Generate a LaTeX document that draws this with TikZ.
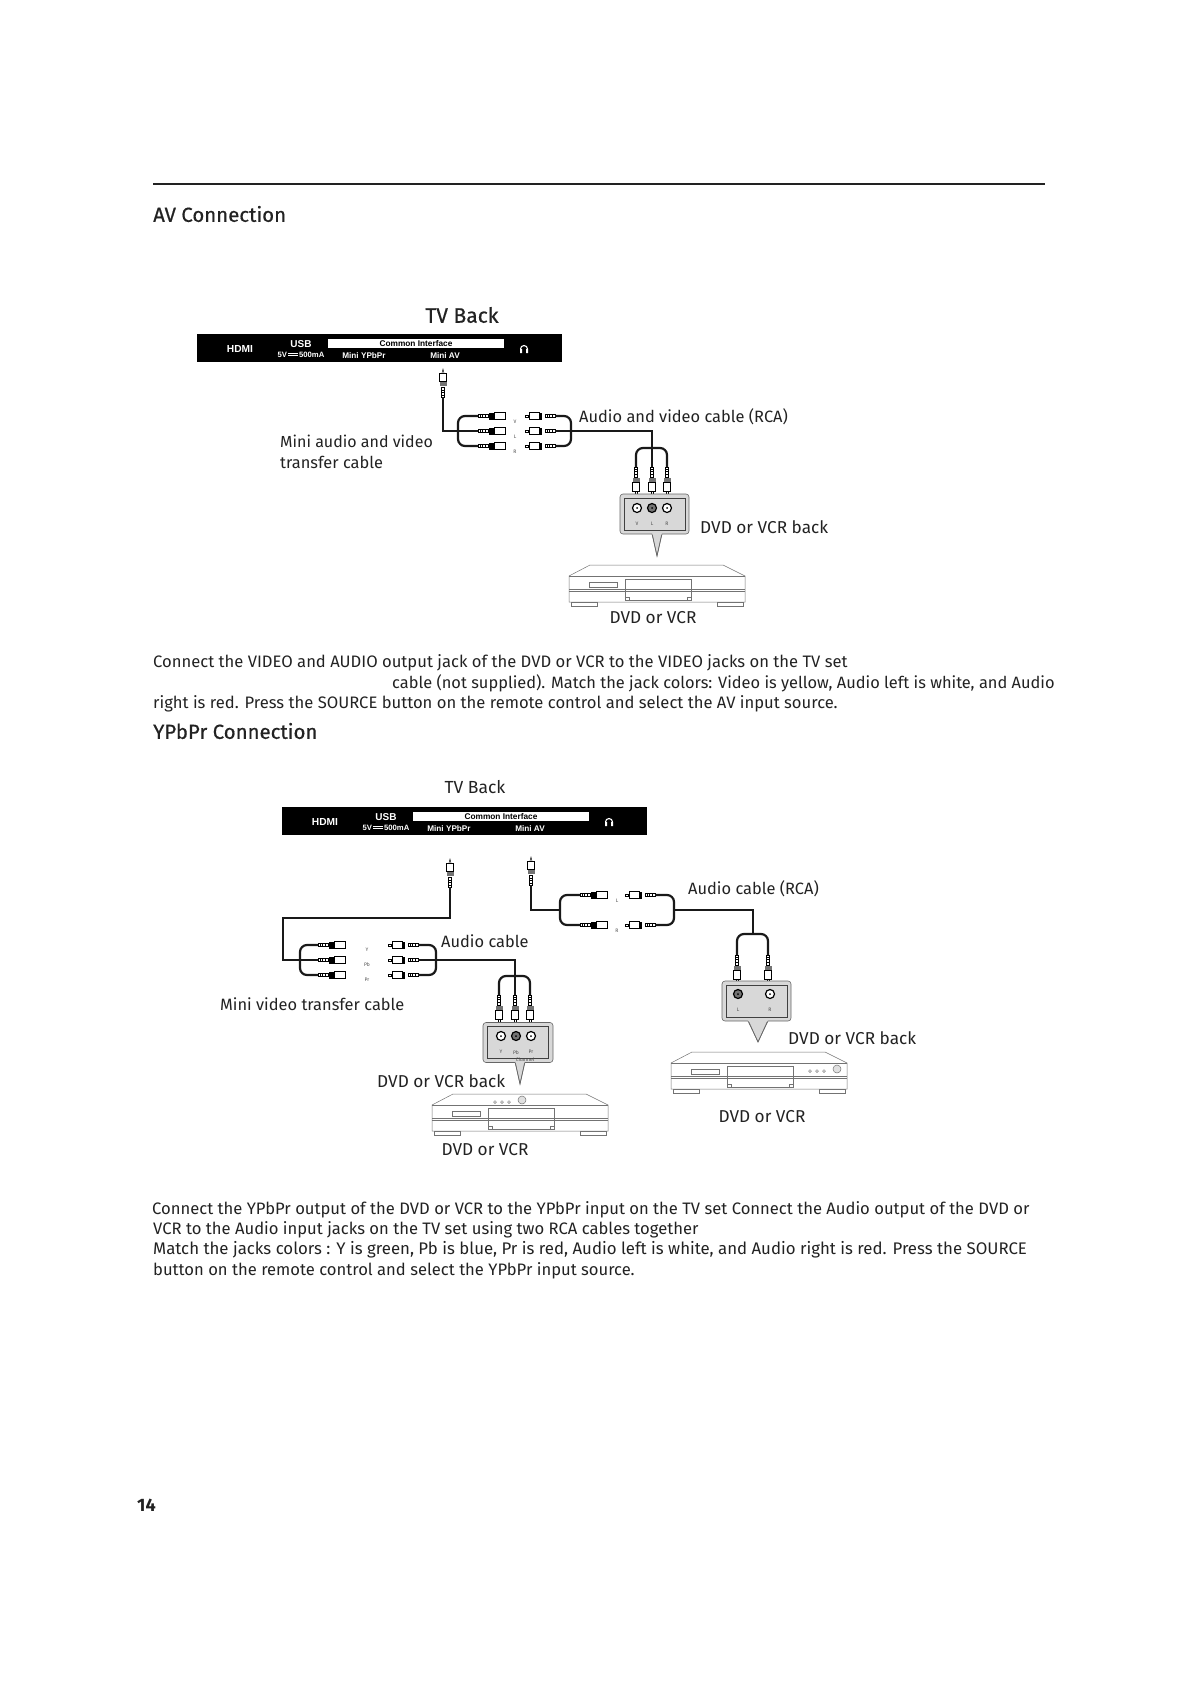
\documentclass[tikz,border=0pt]{standalone}
\usepackage{fontspec}
\setmainfont{Fira Sans}
\newfontfamily\panelfont{Liberation Sans}
\usepackage{xcolor}
\usetikzlibrary{positioning,calc}
\definecolor{inkgray}{HTML}{222222}
\definecolor{plategray}{HTML}{D8D8D8}
\newcommand{\dcsign}{\kern1pt\rlap{\rule[1.1pt]{10pt}{.7pt}}\rule[3.1pt]{10pt}{.7pt}\kern1pt}
\newcommand{\dvdunit}[4]{% x, y, button x, button y
  \begin{scope}[shift={(#1,#2)},line width=.5pt,draw=black!55]
    \draw (0,11) -- (21,0) -- (154,0) -- (176,11) -- (176,37) -- (0,37) -- cycle;
    \draw (0,11) -- (176,11);
    \draw (0,24) -- (176,24) (0,26.5) -- (176,26.5);
    \draw (20,17) rectangle (48,22);
    \draw (56,14) rectangle (122,35);
    \draw (56,32) -- (60,32) -- (60,35) (122,32) -- (118,32) -- (118,35);
    \draw (2,37) rectangle (28,41) (148,37) rectangle (174,41);
    \foreach \k in {0,7,14} \draw (#3+\k,#4) circle (1.4);
    \draw[fill=black!12] (#3+27,#4-2) circle (4);
  \end{scope}}
\tikzset{
  lbl/.style={anchor=west,inner sep=0pt,text=inkgray,font=\fontsize{16.4}{19}\selectfont},
  clbl/.style={lbl,anchor=center},
  vcrlbl/.style={lbl,font=\fontsize{17.2}{19}\selectfont},
  head/.style={lbl,font=\fontsize{20.4}{22}\selectfont\addfontfeature{FakeBold=0.5}},
  para/.style={lbl,font=\fontsize{16.6}{19}\selectfont},
  tiny/.style={inner sep=0pt,text=black!70,font=\fontsize{5}{6}\selectfont},
  cable/.style={line width=2.2pt,draw=black!90,rounded corners=7pt},
  wire/.style={line width=2.2pt,draw=black!90},
  plate/.style={draw=black!60,fill=plategray,line width=.6pt,rounded corners=3pt,minimum width=69pt,minimum height=40pt,inner sep=0pt},
  inplate/.style={draw=black!75,line width=.6pt,minimum width=61pt,minimum height=32pt,inner sep=0pt},
  pointer/.style={draw=black!60,fill=plategray,line width=.6pt},
  jack/.style={circle,draw=black,line width=1.2pt,minimum size=9pt,inner sep=0pt,fill=#1,path picture={\fill[black] (path picture bounding box.center) circle (1pt);}},
  jack/.default=white,
  panel/.style={text=white,inner sep=0pt,font=\panelfont\bfseries\fontsize{#1}{#1}\selectfont},
  tvpanel/.pic={
    \fill[black] (0,0) rectangle (365,28);
    \node[panel=10.2] (-hdmi) at (43,14.5) {HDMI};
    \node[panel=10] (-usb) at (104,10) {USB};
    \node[panel=7.7] (-volt) at (104,20.5) {5V\dcsign500mA};
    \node[fill=white,minimum width=176pt,minimum height=9pt,inner sep=0pt,text=black,font=\panelfont\bfseries\fontsize{8.3}{8}\selectfont] (-ci) at (219,9.5) {Common Interface};
    \node[panel=8.2] (-ypbpr) at (167,22) {Mini YPbPr};
    \node[panel=8.2] (-miniav) at (248,22) {Mini AV};
    \draw[white,line width=1.1pt] (323.5,15) arc (180:360:3.5) ;
    \fill[white] (323,15) rectangle (325,19) (329,15) rectangle (331,19);
  },
  stripes/.pic={
    \draw[line width=.35pt] (0,-1.6) rectangle (10,1.6);
    \foreach \k in {2,4.5,7} \draw[line width=.5pt] (\k,-1.6) -- (\k,1.6);
  },
  plugleft/.pic={
    \pic {stripes};
    \fill[black] (11,-3.5) rectangle (16,3.5);
    \draw[line width=.4pt,fill=white] (16,-3.5) rectangle (27,3.5);
  },
  plugright/.pic={
    \pic at (-10,0) {stripes};
    \fill[black] (-15,-3.5) rectangle (-13,3.5);
    \draw[line width=.5pt,fill=white] (-26,-3.5) rectangle (-16,3.5);
    \draw[line width=.4pt] (-30,-1) rectangle (-27,1);
  },
  plugdown/.pic={
    \draw[line width=.35pt] (-1.6,0) rectangle (1.6,10);
    \foreach \k in {2,4.5,7} \draw[line width=.5pt] (-1.6,\k) -- (1.6,\k);
    \fill[black!55] (-3.5,11) rectangle (3.5,15);
    \draw[line width=.4pt,fill=white] (-3.5,15) rectangle (3.5,24);
    \draw[line width=.4pt] (-1,24) rectangle (1,28);
  },
  minijack/.pic={
    \draw[line width=.35pt] (-1.6,0) rectangle (1.6,-10);
    \foreach \k in {-2,-4.5,-7} \draw[line width=.5pt] (-1.6,\k) -- (1.6,\k);
    \fill[black!55] (-3.5,-11) rectangle (3.5,-16);
    \draw[line width=.4pt,fill=white] (-3.5,-16) rectangle (3.5,-24);
    \draw[line width=.4pt] (-1,-24) -- (0,-28) -- (1,-24);
  }
}
\begin{document}
\begin{tikzpicture}[x=1pt,y=-1pt]
\useasboundingbox (0,0) rectangle (1190,1684);
\draw[line width=2pt,draw=inkgray] (153,184) -- (1045,184);
\node[head] (avhead) at (153,214) {AV Connection};

% AV part
\node[clbl,font=\fontsize{21}{22}\selectfont\addfontfeature{FakeBold=0.5}] (avback) at (462,315) {TV Back};
\pic (avtv) at (197,334) {tvpanel};
\node[lbl,font=\fontsize{16}{19}\selectfont] (avmini) at (280,441) {Mini audio and video};
\node[lbl,font=\fontsize{16.4}{19}\selectfont] (avmini2) at (280,462.5) {transfer cable};
\node[lbl] (avrca) at (579,417) {Audio and video cable (RCA)};

\pic (avjack) at (443,397) {minijack};
\coordinate (avend) at (443,397);
\coordinate (avjoin) at (458,431);
\foreach \n/\y/\t in {v/416/V,l/431/L,r/446/R}{
  \coordinate (avl\n) at (478,\y);
  \coordinate (avr\n) at (555,\y);
  \pic at (avl\n) {plugleft};
  \pic at (avr\n) {plugright};
  \node[tiny] (avt\n) at (515,\y+6) {\t};
}
\draw[wire] (avend) |- (avll);
\draw[cable] (avlv) -| (avjoin) |- (avlr);
\coordinate (avout) at (571,431);
\draw[cable] (avrv) -| (avout) |- (avrr);
\coordinate (avdown) at (652,448);
\coordinate (avpl) at (652,467);
\coordinate (avpv) at (636,467);
\coordinate (avpr) at (667,467);
\draw[wire] (avrl) -| (avpl);
\draw[cable] (avpv) |- (avdown) -| (avpr);
\foreach \n in {avpv,avpl,avpr} \pic at (\n) {plugdown};

\draw[pointer] (652,533) -- (657,556) -- (662,533);
\node[plate] (avplate) at (654.5,514) {};
\node[inplate] (avinner) at (654.5,514) {};
\fill[plategray] (652.3,533) rectangle (661.7,535);
\draw[pointer,fill=none] (652,534) -- (657,556) -- (662,534);
\node[jack] (avjv) at (637,508) {};
\node[jack=black!55] (avjl) at (652,508) {};
\node[jack] (avjr) at (667,508) {};
\node[tiny,below=9pt of avjv] {V};
\node[tiny,below=9pt of avjl] {L};
\node[tiny,below=9pt of avjr] {R};
\node[vcrlbl] (avvcrback) at (700,527) {DVD or VCR back};
\dvdunit{569}{565}{708}{584-565+0}
\node[vcrlbl,anchor=center] (avvcr) at (653,617.5) {DVD or VCR};

% paragraph one
\node[para] (pa) at (153,662.5) {Connect the VIDEO and AUDIO output jack of the DVD or VCR to the VIDEO jacks on the TV set};
\node[para,font=\fontsize{16.4}{19}\selectfont] (pb) at (392,683) {cable (not supplied). Match the jack colors: Video is yellow, Audio left is white, and Audio};
\node[para] (pc) at (153,703.5) {right is red. Press the SOURCE button on the remote control and select the AV input source.};
\node[head] (ypbhead) at (153,731) {YPbPr Connection};

% YPbPr part
\node[clbl,font=\fontsize{17.5}{19}\selectfont] (ypback) at (475,787) {TV Back};
\pic (yptv) at (282,807) {tvpanel};
\node[lbl] (ypmini) at (220,1004) {Mini video transfer cable};
\node[lbl] (ypaudio) at (441,941) {Audio cable};
\pic at (450,887) {minijack};
\coordinate (ypend) at (450,887);
\coordinate (ypturn) at (283,918);
\coordinate (ypjoin) at (300,960);
\foreach \n/\y/\t in {v/945/Y,l/960/Pb,r/975/Pr}{
  \coordinate (ypl\n) at (318,\y);
  \coordinate (ypr\n) at (418,\y);
  \pic at (ypl\n) {plugleft};
  \pic at (ypr\n) {plugright};
  \node[tiny] (ypt\n) at (367,\y+5) {\t};
}
\draw[wire] (ypend) |- (ypturn) |- (ypll);
\draw[cable] (yplv) -| (ypjoin) |- (yplr);
\coordinate (ypout) at (436,960);
\draw[cable] (yprv) -| (ypout) |- (yprr);
\coordinate (ypdown) at (515,976);
\coordinate (yppl) at (515,995);
\coordinate (yppv) at (499,995);
\coordinate (yppr) at (530,995);
\draw[wire] (yprl) -| (yppl);
\draw[cable] (yppv) |- (ypdown) -| (yppr);
\foreach \n in {yppv,yppl,yppr} \pic at (\n) {plugdown};
\draw[pointer] (515,1061) -- (520,1084) -- (525,1061);
\node[plate,minimum width=70pt] (ypplate) at (518,1042.5) {};
\node[inplate] (ypinner) at (518,1042) {};
\fill[plategray] (515.3,1061) rectangle (524.7,1063);
\draw[pointer,fill=none] (515,1062) -- (520,1084) -- (525,1062);
\node[jack] (ypjy) at (501,1036) {};
\node[jack=black!55] (ypjb) at (516,1036) {};
\node[jack] (ypjr) at (531,1036) {};
\node[tiny,below=9pt of ypjy] {Y};
\node[tiny,below=9pt of ypjb] {Pb};
\node[tiny,below=9pt of ypjr] {Pr};
\node[tiny] (ypchannel) at (525,1060) {Channel};
\node[vcrlbl] (ypvcrback) at (377,1081) {DVD or VCR back};
\dvdunit{432}{1094}{63}{8}
\node[vcrlbl,anchor=center] (ypvcr) at (485,1149.5) {DVD or VCR};

% audio part
\node[lbl] (aurca) at (688,889) {Audio cable (RCA)};
\pic at (531,885) {minijack};
\coordinate (auend) at (531,885);
\coordinate (aujoin) at (560,910);
\foreach \n/\y/\t in {l/895/L,r/925/R}{
  \coordinate (aul\n) at (580,\y);
  \coordinate (aur\n) at (655,\y);
  \pic at (aul\n) {plugleft};
  \pic at (aur\n) {plugright};
  \node[tiny] (aut\n) at (617,\y+6) {\t};
}
\draw[wire] (auend) |- (aujoin);
\draw[cable] (aull) -| (aujoin) |- (aulr);
\coordinate (auout) at (674,910);
\draw[cable] (aurl) -| (auout) |- (aurr);
\coordinate (auturn) at (753,934);
\draw[wire] (auout) -| (auturn);
\coordinate (aupl) at (737,955);
\coordinate (aupr) at (768,955);
\draw[cable] (aupl) |- (auturn) -| (aupr);
\foreach \n in {aupl,aupr} \pic at (\n) {plugdown};
\draw[pointer] (748,1020) -- (758,1042) -- (768,1020);
\node[plate] (auplate) at (756.5,1001) {};
\node[inplate] (auinner) at (756.5,1001) {};
\fill[plategray] (748.3,1020) rectangle (767.7,1022);
\draw[pointer,fill=none] (748,1021) -- (758,1042) -- (768,1021);
\node[jack=black!55] (aujl) at (738,994) {};
\node[jack] (aujr) at (770,994) {};
\node[tiny,below=9pt of aujl] {L};
\node[tiny,below=9pt of aujr] {R};
\node[vcrlbl] (auvcrback) at (788,1038) {DVD or VCR back};
\dvdunit{671}{1052}{139}{19}
\node[vcrlbl,anchor=center] (auvcr) at (762,1117) {DVD or VCR};

% paragraph two
\node[para] (qa) at (152,1210) {Connect the YPbPr output of the DVD or VCR to the YPbPr input on the TV set Connect the Audio output of the DVD or};
\node[para] (qb) at (153,1230) {VCR to the Audio input jacks on the TV set using two RCA cables together};
\node[para,font=\fontsize{16.8}{19}\selectfont] (qc) at (153,1250) {Match the jacks colors : Y is green, Pb is blue, Pr is red, Audio left is white, and Audio right is red. Press the SOURCE};
\node[para] (qd) at (153,1270.5) {button on the remote control and select the YPbPr input source.};
\node[lbl,font=\bfseries\fontsize{18}{18}\selectfont] (pageno) at (137,1505) {14};
\end{tikzpicture}
\end{document}
